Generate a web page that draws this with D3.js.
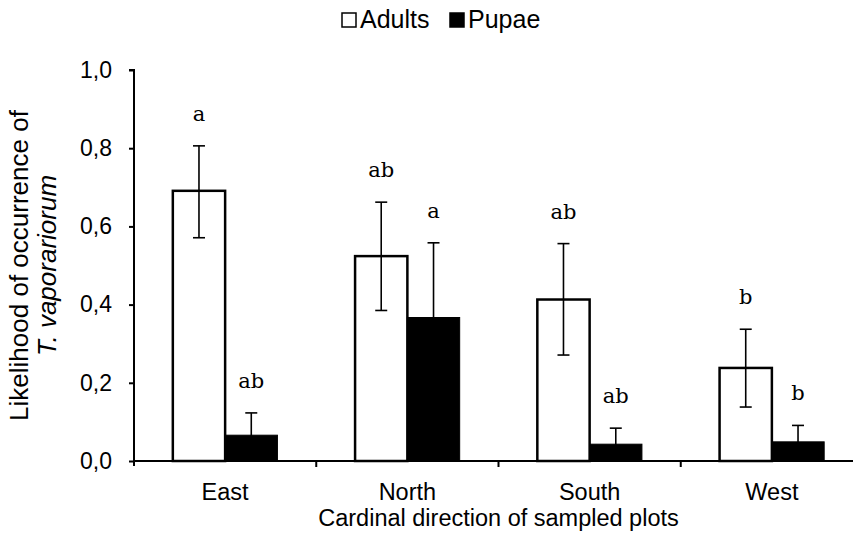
<!DOCTYPE html>
<html><head><meta charset="utf-8">
<script src="https://cdn.jsdelivr.net/npm/d3@7"></script>
<style>body{margin:0;background:#fff;} svg{display:block;}</style>
</head><body>
<script>
const categories = ["East","North","South","West"];
const series = ["Adults","Pupae"];
const adults = [0.691, 0.524, 0.413, 0.238];
const adultsLow = [0.571, 0.385, 0.271, 0.138];
const adultsHigh = [0.806, 0.662, 0.556, 0.337];
const pupae = [0.066, 0.367, 0.043, 0.049];
const pupaeLow = [0.009, 0.176, 0.002, 0.007];
const pupaeHigh = [0.123, 0.558, 0.084, 0.091];
const adultLetters = ["a","ab","ab","b"];
const pupaeLetters = ["ab","a","ab","b"];
const yTicks = [0,0.2,0.4,0.6,0.8,1.0];

const W=853,H=542;
const SANS="'Liberation Sans',Arial,sans-serif";
const svg=d3.select("body").append("svg").attr("width",W).attr("height",H);
const x0=134, x1=863, yTop=70, yBot=461;
const x=d3.scaleBand().domain(categories).range([x0,x1]).padding(0);
const y=d3.scaleLinear().domain([0,1]).range([yBot,yTop]);
const sub=d3.scaleBand().domain(series).range([-52.3,52.3]).padding(0);

const rows=categories.map((c,i)=>({c,vals:[
 {s:"Adults",v:adults[i],lo:adultsLow[i],hi:adultsHigh[i],lab:adultLetters[i]},
 {s:"Pupae",v:pupae[i],lo:pupaeLow[i],hi:pupaeHigh[i],lab:pupaeLetters[i]}]}));

const g=svg.append("g");
rows.forEach(r=>{
  const cx=x(r.c)+x.bandwidth()/2;
  r.vals.forEach(d=>{
    const bx=cx+sub(d.s);
    g.append("rect").attr("x",bx).attr("y",y(d.v)).attr("width",sub.bandwidth()).attr("height",y(0)-y(d.v))
     .attr("fill",d.s==="Adults"?"#fff":"#000").attr("stroke","#000").attr("stroke-width",d.s==="Adults"?2.5:1);
    const ex=bx+sub.bandwidth()/2;
    g.append("line").attr("x1",ex).attr("x2",ex).attr("y1",y(d.lo)).attr("y2",y(d.hi)).attr("stroke","#000").attr("stroke-width",1.6);
    [d.lo,d.hi].forEach(v=>g.append("line").attr("x1",ex-6).attr("x2",ex+6).attr("y1",y(v)).attr("y2",y(v)).attr("stroke","#000").attr("stroke-width",1.6));
    g.append("text").attr("x",ex).attr("y",y(d.hi)-25).attr("text-anchor","middle")
     .attr("font-family","'DejaVu Serif',serif").attr("font-size",21).attr("fill","#000").text(d.lab);
  });
});

// y axis
const yAxis=d3.axisLeft(y).tickValues(yTicks).tickSize(5).tickFormat(d=>d3.format(".1f")(d).replace(".",","));
const ya=svg.append("g").attr("transform",`translate(${x0},0)`).call(yAxis);
ya.select(".domain").attr("stroke","#000").attr("stroke-width",2).attr("d",`M-5,${yTop}H0V${yBot+5}`);
ya.selectAll(".tick line").attr("stroke","#000").attr("stroke-width",2);
ya.selectAll(".tick text").attr("x",-22).attr("font-family",SANS).attr("font-size",23).attr("fill","#000");

// x axis
svg.append("line").attr("x1",x0).attr("x2",x1).attr("y1",yBot).attr("y2",yBot).attr("stroke","#000").attr("stroke-width",2);
const bounds=categories.slice(1).map(c=>x(c));
svg.selectAll(".xt").data(bounds).enter().append("line").attr("x1",d=>d).attr("x2",d=>d).attr("y1",yBot).attr("y2",yBot+6).attr("stroke","#000").attr("stroke-width",2);
svg.selectAll(".xl").data(categories).enter().append("text").attr("x",d=>x(d)+x.bandwidth()/2).attr("y",500)
 .attr("text-anchor","middle").attr("font-family",SANS).attr("font-size",23.5).attr("fill","#000").text(d=>d);

svg.append("text").attr("x",(x0+x1)/2).attr("y",526).attr("text-anchor","middle")
 .attr("font-family",SANS).attr("font-size",23.5).attr("fill","#000").text("Cardinal direction of sampled plots");

const yt=svg.append("text").attr("transform",`translate(28,${(yTop+yBot)/2}) rotate(-90)`).attr("text-anchor","middle")
 .attr("font-family",SANS).attr("font-size",26).attr("fill","#000");
yt.append("tspan").attr("x",0).attr("dy",0).text("Likelihood of occurrence of");
yt.append("tspan").attr("x",0).attr("dy",28).attr("font-style","italic").text("T. vaporariorum");

// legend
const leg=svg.append("g");
const legItems=[{s:"Adults",x:342},{s:"Pupae",x:450}];
legItems.forEach(l=>{
  leg.append("rect").attr("x",l.x).attr("y",13).attr("width",14).attr("height",14)
   .attr("fill",l.s==="Adults"?"#fff":"#000").attr("stroke","#000").attr("stroke-width",1.5);
  leg.append("text").attr("x",l.x+18).attr("y",28).attr("font-family",SANS)
   .attr("font-size",25).attr("fill","#000").text(l.s);
});
</script>
</body></html>
